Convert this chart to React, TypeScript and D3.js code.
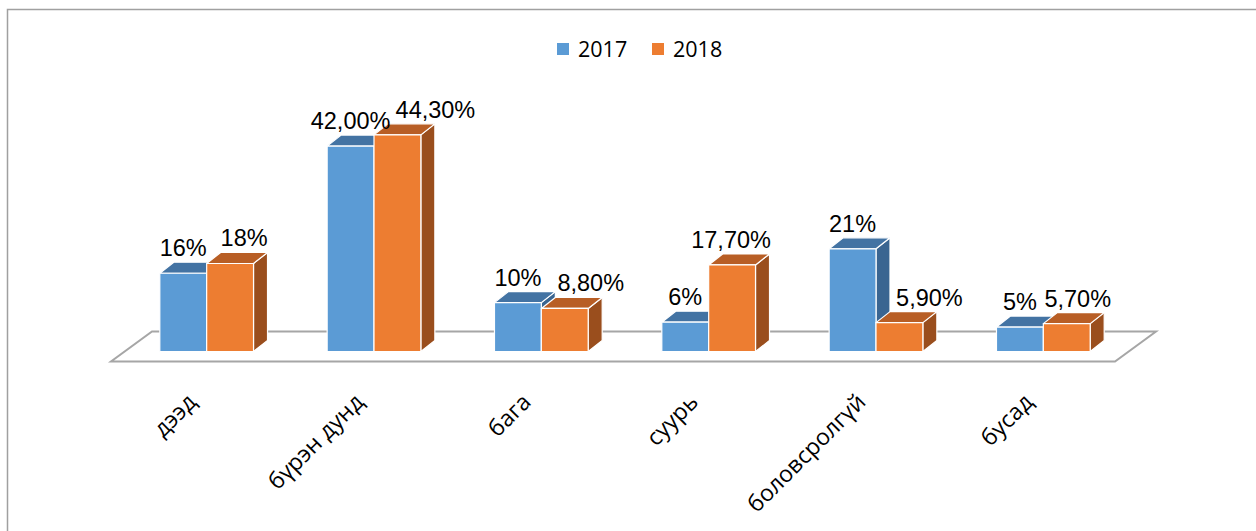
import React from "react";
import * as d3 from "d3";

const categories = ["дээд", "бүрэн дунд", "бага", "суурь", "боловсролгүй", "бусад"];
const series = ["2017", "2018"];
const values2017 = [16, 42, 10, 6, 21, 5];
const values2018 = [18, 44.3, 8.8, 17.7, 5.9, 5.7];
const labels2017 = ["16%", "42,00%", "10%", "6%", "21%", "5%"];
const labels2018 = ["18%", "44,30%", "8,80%", "17,70%", "5,90%", "5,70%"];
// small horizontal nudges of the 2018 data labels (Excel overlap avoidance)
const labelNudge2018 = [14, 38, 26, -1, 30, 11];

const W = 1256;
const H = 531;
const BASE_Y = 351.5;
const DX = 14; // bar depth offset
const DY = -11;
const FLOOR_FRONT = { dx: -12, dy: 10 };
const FLOOR_BACK = { dx: 29, dy: -20 };

const COLORS = {
  "2017": { front: "#5B9BD5", top: "#4373A3", side: "#3A6591" },
  "2018": { front: "#ED7D31", top: "#B85E25", side: "#9A4E1D" },
};

export default function App() {
  const x = d3
    .scaleBand<string>()
    .domain(categories)
    .range([123, 1127])
    .paddingInner(0.44)
    .paddingOuter(0.22);
  const xs = d3.scaleBand<string>().domain(series).range([0, x.bandwidth()]).padding(0);
  const y = d3.scaleLinear().domain([0, 50]).range([BASE_Y, BASE_Y - 244.5]);

  const [r0, r1] = x.range();
  const floor = [
    [r0 + FLOOR_FRONT.dx, BASE_Y + FLOOR_FRONT.dy],
    [r1 + FLOOR_FRONT.dx, BASE_Y + FLOOR_FRONT.dy],
    [r1 + FLOOR_BACK.dx, BASE_Y + FLOOR_BACK.dy],
    [r0 + FLOOR_BACK.dx, BASE_Y + FLOOR_BACK.dy],
  ];
  const line = d3.line();

  const bars: React.ReactNode[] = [];
  const labels: React.ReactNode[] = [];
  categories.forEach((c, i) => {
    series.forEach((s) => {
      const v = s === "2017" ? values2017[i] : values2018[i];
      const x0 = (x(c) as number) + (xs(s) as number);
      const bw = xs.bandwidth();
      const x1 = x0 + bw;
      const yt = y(v);
      const col = (COLORS as any)[s];
      const top = line([
        [x0, yt],
        [x1, yt],
        [x1 + DX, yt + DY],
        [x0 + DX, yt + DY],
      ]) + "Z";
      const side = line([
        [x1, yt],
        [x1 + DX, yt + DY],
        [x1 + DX, BASE_Y + DY],
        [x1, BASE_Y],
      ]) + "Z";
      bars.push(
        <g key={c + s} stroke="#fff" strokeWidth={1.2} strokeLinejoin="round">
          <path d={side} fill={col.side} />
          <path d={top} fill={col.top} />
          <rect x={x0} y={yt} width={bw} height={BASE_Y - yt} fill={col.front} />
        </g>
      );
      const lx = x0 + bw / 2 + (s === "2018" ? labelNudge2018[i] : 0);
      labels.push(
        <text
          key={"l" + c + s}
          x={lx}
          y={yt + DY - 6}
          textAnchor="middle"
          fontFamily="'Liberation Sans', Arial, sans-serif"
          fontSize={23.5}
          fill="#000"
        >
          {s === "2017" ? labels2017[i] : labels2018[i]}
        </text>
      );
    });
  });

  return (
    <svg
      width={W}
      height={H}
      style={{ position: "absolute", left: 0, top: 0, background: "#fff" }}
    >
      <rect x={0} y={0} width={W} height={H} fill="#fff" />
      <path d={`M7.5,${H} V9.5 H${W}`} fill="none" stroke="#A0A0A0" strokeWidth={1.5} />
      {/* legend */}
      {series.map((s, i) => {
        const lx = 557 + i * 95;
        return (
          <g key={s}>
            <rect x={lx} y={43} width={12} height={12} fill={(COLORS as any)[s].front} />
            <text
              x={lx + 21}
              y={57}
              fontFamily="'Open Sans', sans-serif"
              fontSize={21.5}
              fill="#000"
            >
              {s}
            </text>
          </g>
        );
      })}
      <path d={line(floor as any) + "Z"} fill="#fff" stroke="#A6A6A6" strokeWidth={2} />
      {bars}
      {labels}
      {categories.map((c) => {
        const cx = (x(c) as number) + x.bandwidth() / 2 - 9;
        const cy = BASE_Y + 52;
        return (
          <text
            key={"c" + c}
            transform={`translate(${cx},${cy}) rotate(-45)`}
            textAnchor="end"
            fontFamily="'Open Sans', sans-serif"
            fontSize={23}
            fill="#000"
          >
            {c}
          </text>
        );
      })}
    </svg>
  );
}
